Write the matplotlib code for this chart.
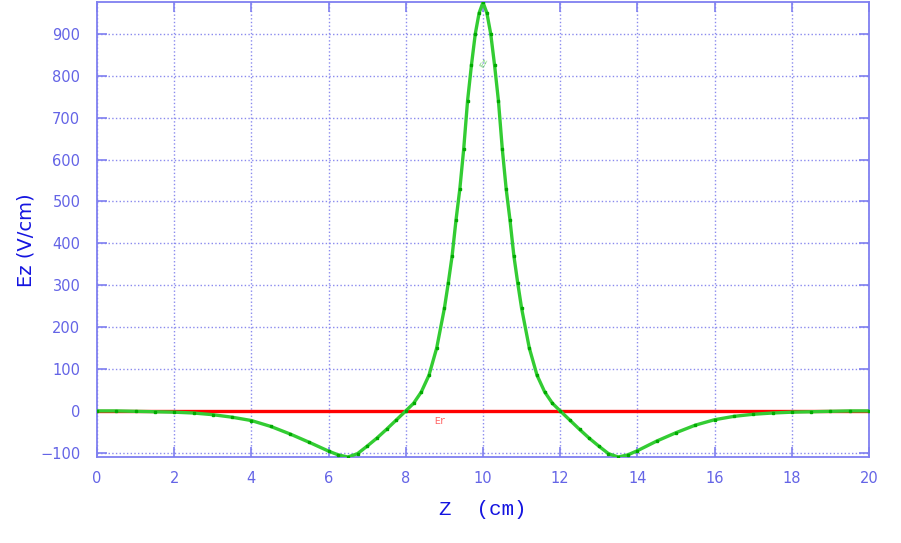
import numpy as np
import matplotlib
matplotlib.use("Agg")
import matplotlib.pyplot as plt

# Ez along the axis
z = [0, 0.5, 1, 1.5, 2, 2.5, 3, 3.5, 4, 4.5, 5, 5.5, 6, 6.25, 6.5, 6.75,
     7, 7.25, 7.5, 7.75, 8, 8.2, 8.4, 8.6, 8.8, 9, 9.1, 9.2, 9.3, 9.4, 9.5,
     9.6, 9.7, 9.8, 9.9, 10,
     10.1, 10.2, 10.3, 10.4, 10.5, 10.6, 10.7, 10.8, 10.9, 11, 11.2, 11.4,
     11.6, 11.8, 12, 12.25, 12.5, 12.75, 13, 13.25, 13.5, 13.75, 14, 14.5,
     15, 15.5, 16, 16.5, 17, 17.5, 18, 18.5, 19, 19.5, 20]
ez = [0, 0, -1, -2, -3, -5, -9, -15, -23, -37, -55, -75, -96, -105, -110, -102,
      -84, -65, -44, -22, 0, 18, 45, 85, 150, 245, 305, 370, 455, 530, 625,
      740, 825, 900, 950, 975,
      950, 900, 825, 740, 625, 530, 455, 370, 305, 245, 150, 85,
      45, 18, 0, -22, -44, -65, -84, -102, -110, -105, -95, -72,
      -52, -34, -21, -13, -8, -5, -3, -2, -1, 0, 0]

# Er is zero everywhere
z_er = [0, 20]
er = [0, 0]

tick_col = '#6464e6'
axis_col = '#7f7ff0'
label_col = '#1414e0'

fig = plt.figure(figsize=(9.01, 5.43), dpi=100)
ax = fig.add_axes([97/901, 1 - 457/543, (869 - 97)/901, (457 - 2)/543])

ax.plot(z_er, er, color='#ff0000', lw=2.4, zorder=3)
ax.plot(z, ez, color='#33cc33', lw=2.4, marker='s', ms=1.8,
        mfc='#00aa00', mec='#00aa00', zorder=4)

ax.text(10.05, 830, 'Ez', color='#66cc66', fontsize=6, rotation=60,
        family='Liberation Mono', ha='center', va='center')
ax.text(8.9, -25, 'Er', color='#ff6060', fontsize=7,
        family='Liberation Mono', ha='center', va='center')

ax.set_xlim(0, 20)
ax.set_ylim(-110, 976)
ax.set_xticks(np.arange(0, 21, 2))
ax.set_yticks(np.arange(-100, 901, 100))

ax.grid(True, color='#8a8aee', linestyle=':', linewidth=1.0)
for s in ax.spines.values():
    s.set_color(axis_col)
    s.set_linewidth(1.3)
ax.tick_params(direction='in', length=7, width=1.2, color=axis_col,
               labelcolor=tick_col, labelsize=10.5, top=True, right=True)
ax.tick_params(axis='y', pad=12)
ax.tick_params(axis='x', pad=10)

ax.set_xlabel('Z  (cm)', color=label_col, fontsize=15,
              family='Liberation Mono', labelpad=10)
ax.set_ylabel('Ez (V/cm)', color=label_col, fontsize=14)
ax.yaxis.set_label_coords(-0.080, 0.477)

fig.savefig('out.png', dpi=100)
